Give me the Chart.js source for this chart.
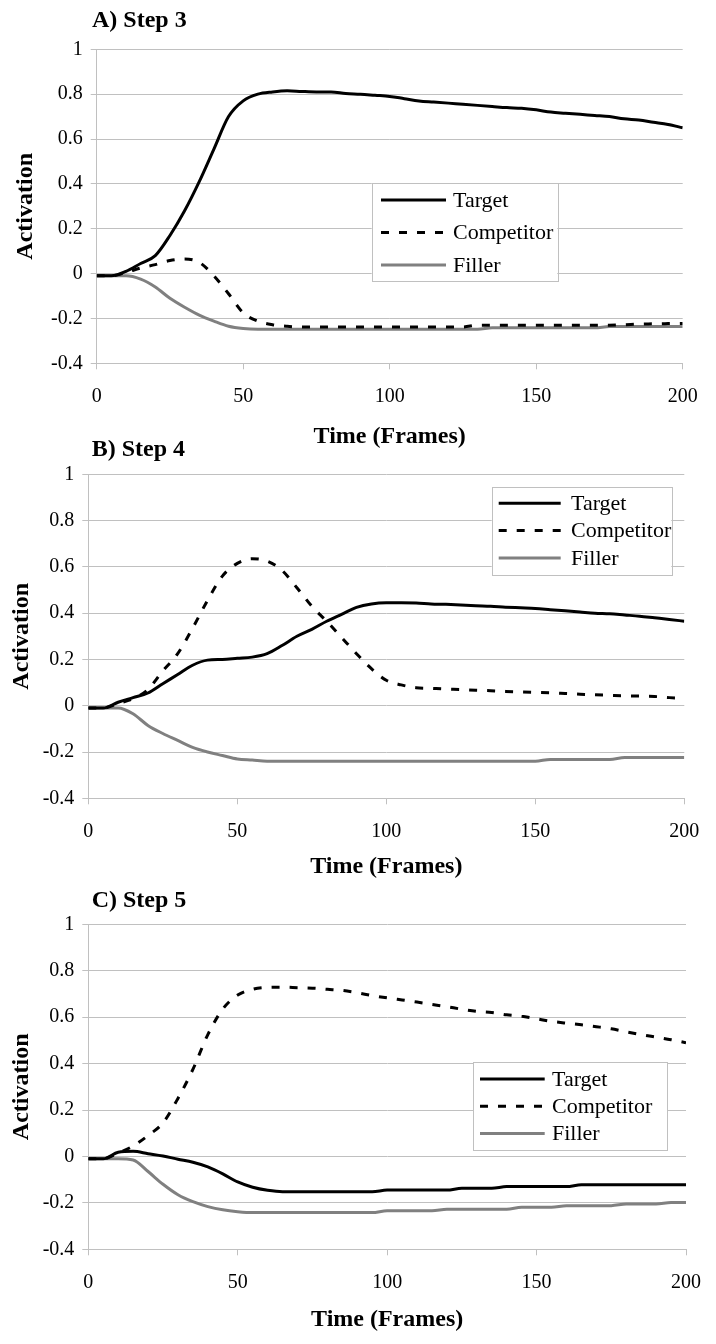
<!DOCTYPE html>
<html>
<head>
<meta charset="utf-8">
<script src="https://cdn.jsdelivr.net/npm/chart.js@4.4.0/dist/chart.umd.min.js"></script>
<style>
  body { margin: 0; background: #fff; width: 716px; height: 1344px; position: relative; overflow: hidden; }
  .panel { position: absolute; left: 0; width: 716px; }
</style>
</head>
<body>
<div class="panel" style="top:0;height:470px"><canvas id="chartA"></canvas></div>
<div class="panel" style="top:440px;height:470px"><canvas id="chartB"></canvas></div>
<div class="panel" style="top:880px;height:464px"><canvas id="chartC"></canvas></div>
<script>
// frames on the x axis (one value every 5 frames)
const frames = [0, 5, 10, 15, 20, 25, 30, 35, 40, 45, 50, 55, 60, 65, 70, 75, 80, 85, 90, 95, 100,
  105, 110, 115, 120, 125, 130, 135, 140, 145, 150, 155, 160, 165, 170, 175, 180, 185, 190, 195, 200];

const seriesNames = ["Target", "Competitor", "Filler"];
const panelTitles = ["A) Step 3", "B) Step 4", "C) Step 5"];
const xTicks = [0, 50, 100, 150, 200];
const yTicks = [-0.4, -0.2, 0, 0.2, 0.4, 0.6, 0.8, 1];

// A) Step 3
const targetA = [-0.01, -0.01, 0.01, 0.045, 0.08, 0.17, 0.28, 0.41, 0.555, 0.70, 0.77, 0.80, 0.81, 0.815, 0.812, 0.81, 0.81, 0.803, 0.80, 0.795, 0.79,
  0.78, 0.77, 0.765, 0.76, 0.755, 0.75, 0.745, 0.74, 0.737, 0.73, 0.72, 0.715, 0.71, 0.705, 0.70, 0.69, 0.685, 0.675, 0.665, 0.65];
const competitorA = [-0.01, -0.01, 0.005, 0.025, 0.04, 0.058, 0.065, 0.05, -0.01, -0.09, -0.175, -0.212, -0.228, -0.235, -0.238, -0.238, -0.238, -0.238, -0.238, -0.238, -0.238,
  -0.238, -0.238, -0.238, -0.238, -0.238, -0.23, -0.23, -0.23, -0.23, -0.23, -0.23, -0.23, -0.23, -0.23, -0.23, -0.228, -0.225, -0.224, -0.223, -0.222];
const fillerA = [-0.01, -0.01, -0.01, -0.025, -0.06, -0.11, -0.15, -0.185, -0.212, -0.235, -0.245, -0.248, -0.248, -0.248, -0.248, -0.248, -0.248, -0.248, -0.248, -0.248, -0.248,
  -0.248, -0.248, -0.248, -0.248, -0.248, -0.248, -0.242, -0.242, -0.242, -0.242, -0.242, -0.242, -0.242, -0.242, -0.236, -0.236, -0.236, -0.236, -0.236, -0.236];

// B) Step 4
const targetB = [-0.01, -0.01, 0.015, 0.035, 0.055, 0.095, 0.135, 0.175, 0.197, 0.20, 0.205, 0.21, 0.225, 0.26, 0.30, 0.33, 0.365, 0.395, 0.425, 0.44, 0.445,
  0.445, 0.444, 0.44, 0.438, 0.435, 0.432, 0.43, 0.426, 0.423, 0.42, 0.415, 0.41, 0.405, 0.40, 0.397, 0.392, 0.387, 0.38, 0.373, 0.365];
const competitorB = [-0.01, -0.01, 0.01, 0.03, 0.07, 0.15, 0.225, 0.335, 0.455, 0.56, 0.615, 0.635, 0.625, 0.585, 0.51, 0.43, 0.365, 0.295, 0.225, 0.16, 0.11,
  0.09, 0.078, 0.075, 0.072, 0.07, 0.067, 0.065, 0.062, 0.06, 0.058, 0.056, 0.053, 0.05, 0.047, 0.045, 0.043, 0.042, 0.04, 0.035, 0.03];
const fillerB = [-0.01, -0.01, -0.01, -0.035, -0.085, -0.12, -0.15, -0.18, -0.20, -0.215, -0.23, -0.235, -0.24, -0.24, -0.24, -0.24, -0.24, -0.24, -0.24, -0.24, -0.24,
  -0.24, -0.24, -0.24, -0.24, -0.24, -0.24, -0.24, -0.24, -0.24, -0.24, -0.232, -0.232, -0.232, -0.232, -0.232, -0.224, -0.224, -0.224, -0.224, -0.224];

// C) Step 5
const targetC = [-0.01, -0.01, 0.018, 0.022, 0.012, 0.002, -0.012, -0.025, -0.045, -0.075, -0.11, -0.133, -0.146, -0.152, -0.152, -0.152, -0.152, -0.152, -0.152, -0.152, -0.145,
  -0.145, -0.145, -0.145, -0.145, -0.137, -0.137, -0.137, -0.13, -0.13, -0.13, -0.13, -0.13, -0.122, -0.122, -0.122, -0.122, -0.122, -0.122, -0.122, -0.122];
const competitorC = [-0.01, -0.01, 0.015, 0.045, 0.09, 0.145, 0.25, 0.375, 0.525, 0.635, 0.695, 0.72, 0.728, 0.729, 0.727, 0.725, 0.72, 0.715, 0.705, 0.693, 0.683,
  0.674, 0.665, 0.655, 0.645, 0.634, 0.625, 0.62, 0.61, 0.604, 0.593, 0.582, 0.574, 0.567, 0.559, 0.55, 0.537, 0.525, 0.514, 0.503, 0.49];
const fillerC = [-0.01, -0.01, -0.01, -0.015, -0.065, -0.12, -0.165, -0.195, -0.216, -0.23, -0.238, -0.242, -0.242, -0.242, -0.242, -0.242, -0.242, -0.242, -0.242, -0.242, -0.234,
  -0.234, -0.234, -0.234, -0.227, -0.227, -0.227, -0.227, -0.227, -0.219, -0.219, -0.219, -0.212, -0.212, -0.212, -0.212, -0.205, -0.205, -0.205, -0.198, -0.198];

const FONT = '"Liberation Serif", "Times New Roman", serif';
const GRID = "#c0c0c0";

// draws the panel label and the boxed legend
const panelDecor = {
  id: "panelDecor",
  afterDraw(chart, args, opts) {
    const ctx = chart.ctx;
    ctx.save();
    ctx.fillStyle = "#000";
    ctx.textBaseline = "middle";
    ctx.textAlign = "left";
    ctx.font = "bold 24px " + FONT;
    ctx.fillText(opts.title, opts.titleX, opts.titleY);

    const b = opts.legend;
    ctx.fillStyle = "#fff";
    ctx.fillRect(b.left, b.top, b.width, b.height);
    ctx.strokeStyle = GRID;
    ctx.lineWidth = 1;
    ctx.strokeRect(Math.round(b.left) + 0.5, Math.round(b.top) + 0.5, Math.round(b.width), Math.round(b.height));

    chart.data.datasets.forEach((ds, i) => {
      const y = b.top + b.firstRow + i * b.rowGap;
      ctx.beginPath();
      ctx.setLineDash(ds.borderDash || []);
      ctx.strokeStyle = ds.borderColor;
      ctx.lineWidth = ds.borderWidth;
      ctx.moveTo(b.left + b.sampleX, y);
      ctx.lineTo(b.left + b.sampleX + b.sampleLen, y);
      ctx.stroke();
      ctx.setLineDash([]);
      ctx.fillStyle = "#000";
      ctx.font = "22px " + FONT;
      ctx.fillText(ds.label, b.left + b.textX, y + 1);
    });
    ctx.restore();
  },
};

function makePanel(canvasId, title, series, layout) {
  const styles = [
    { color: "#000000", dash: [] },
    { color: "#000000", dash: [8, 10] },
    { color: "#808080", dash: [] },
  ];
  const datasets = series.map((values, i) => ({
    label: seriesNames[i],
    data: frames.map((f, j) => ({ x: f, y: values[j] })),
    borderColor: styles[i].color,
    borderDash: styles[i].dash,
    borderWidth: 3,
    pointRadius: 0,
    fill: false,
    cubicInterpolationMode: "monotone",
  }));

  return new Chart(document.getElementById(canvasId), {
    type: "line",
    data: { datasets },
    plugins: [panelDecor],
    options: {
      responsive: true,
      maintainAspectRatio: false,
      animation: false,
      layout: { padding: { top: layout.padTop, right: layout.padRight, bottom: 0, left: 0 } },
      plugins: {
        legend: { display: false },
        tooltip: { enabled: false },
        panelDecor: { title, titleX: layout.titleX, titleY: layout.titleY, legend: layout.legend },
      },
      scales: {
        x: {
          type: "linear",
          min: 0,
          max: 200,
          afterBuildTicks: (scale) => { scale.ticks = xTicks.map((v) => ({ value: v })); },
          afterFit: (scale) => { scale.height = layout.xHeight; },
          grid: { drawOnChartArea: false, drawTicks: true, tickLength: 6, color: GRID },
          border: { display: true, color: GRID },
          ticks: { color: "#000", font: { family: FONT, size: 20 }, padding: 15, maxRotation: 0, callback: (v) => String(v) },
          title: {
            display: true,
            text: "Time (Frames)",
            color: "#000",
            font: { family: FONT, size: 24, weight: "bold" },
            padding: { top: 0, bottom: layout.xTitlePad },
          },
        },
        y: {
          min: -0.4,
          max: 1,
          afterBuildTicks: (scale) => { scale.ticks = yTicks.map((v) => ({ value: v })); },
          afterFit: (scale) => { scale.width = layout.yWidth; },
          grid: { color: GRID, tickLength: 6 },
          border: { display: true, color: GRID },
          ticks: { color: "#000", font: { family: FONT, size: 20 }, padding: 8, callback: (v) => String(v) },
          title: {
            display: true,
            text: "Activation",
            color: "#000",
            font: { family: FONT, size: 24, weight: "bold" },
            padding: { top: layout.yTitlePad, bottom: 0 },
          },
        },
      },
    },
  });
}

makePanel("chartA", panelTitles[0], [targetA, competitorA, fillerA], {
  padTop: 49.3, padRight: 33.3, yWidth: 96.7, xHeight: 106.7, xTitlePad: 18.6, yTitlePad: 11.6,
  titleX: 92, titleY: 21,
  legend: { left: 371.7, top: 183.3, width: 185.6, height: 98.4, firstRow: 16.7, rowGap: 32.5, sampleX: 9.3, sampleLen: 65, textX: 81.3 },
});

makePanel("chartB", panelTitles[1], [targetB, competitorB, fillerB], {
  padTop: 34.3, padRight: 31.7, yWidth: 88.3, xHeight: 111.7, xTitlePad: 28.6, yTitlePad: 7.3,
  titleX: 91.7, titleY: 10,
  legend: { left: 491.7, top: 46.7, width: 179.6, height: 88.3, firstRow: 16.6, rowGap: 27.3, sampleX: 7, sampleLen: 62, textX: 79.3 },
});

makePanel("chartC", panelTitles[2], [targetC, competitorC, fillerC], {
  padTop: 44.3, padRight: 30, yWidth: 88.3, xHeight: 94.7, xTitlePad: 9.6, yTitlePad: 7.3,
  titleX: 91.7, titleY: 20.7,
  legend: { left: 473.3, top: 181.7, width: 194.4, height: 88.3, firstRow: 17.3, rowGap: 27.2, sampleX: 6.7, sampleLen: 64.7, textX: 78.7 },
});
</script>
</body>
</html>
